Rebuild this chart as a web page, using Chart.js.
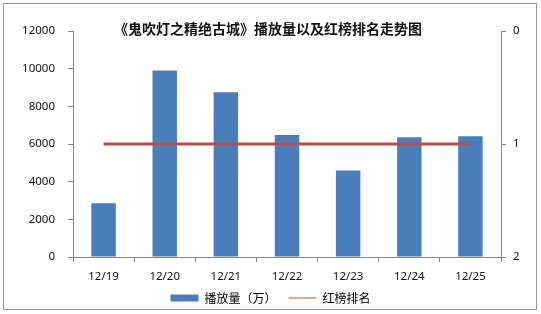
<!DOCTYPE html>
<html>
<head>
<meta charset="utf-8">
<script src="https://cdn.jsdelivr.net/npm/chart.js@4"></script>
<style>
  body { margin: 0; background: #fff; }
</style>
</head>
<body>
<canvas id="grafik" width="541" height="314"></canvas>
<script>
const judul = "《鬼吹灯之精绝古城》播放量以及红榜排名走势图";
const tanggal = ["12/19", "12/20", "12/21", "12/22", "12/23", "12/24", "12/25"];
const bofangliang = [2850, 9900, 8750, 6480, 4590, 6360, 6410]; // 播放量（万）
const paiming = [1, 1, 1, 1, 1, 1, 1]; // 红榜排名

const fontAngka = '"Noto Sans", "Noto Sans CJK SC", sans-serif';
const warnaSumbu = "#868686";

// bingkai abu-abu + judul
const hiasan = {
    id: "hiasan",
    beforeDraw(chart) {
        const c = chart.ctx;
        c.save();
        c.fillStyle = "#fff";
        c.fillRect(0, 0, chart.width, chart.height);
        c.strokeStyle = "#9a9a9a";
        c.lineWidth = 1;
        c.strokeRect(3.5, 3.5, 533, 306);
        c.restore();
    },
    afterDraw(chart) {
        const c = chart.ctx;
        c.save();
        c.font = 'bold 14px "Noto Sans CJK SC", sans-serif';
        c.fillStyle = "#111";
        c.textAlign = "center";
        c.textBaseline = "middle";
        c.fillText(judul, 268, 29);
        c.restore();
    }
};

const polos = v => String(v); // tanpa pemisah ribuan

new Chart(document.getElementById("grafik"), {
    type: "bar",
    data: {
        labels: tanggal,
        datasets: [{
            type: "bar",
            label: "播放量（万）",
            data: bofangliang,
            backgroundColor: "#4a7ebb",
            yAxisID: "y",
            order: 1,
            categoryPercentage: 1,
            barPercentage: 0.4
        }, {
            type: "line",
            label: "红榜排名",
            data: paiming,
            borderColor: "#be4b48",
            backgroundColor: "#be4b48",
            borderWidth: 3,
            pointRadius: 0,
            yAxisID: "y1",
            order: 0
        }]
    },
    options: {
        responsive: false,
        animation: false,
        layout: { padding: { top: 31, left: 0, right: 0, bottom: 0 } },
        plugins: {
            tooltip: { enabled: false },
            legend: {
                position: "bottom",
                labels: {
                    usePointStyle: true,
                    pointStyleWidth: 28,
                    boxHeight: 7,
                    padding: 12,
                    color: "#111",
                    font: { family: '"Noto Sans CJK SC", sans-serif', size: 12 },
                    generateLabels: chart => chart.data.datasets.map((ds, i) => ({
                        text: ds.label,
                        datasetIndex: i,
                        fillStyle: ds.type === "bar" ? ds.backgroundColor : "rgba(0,0,0,0)",
                        strokeStyle: ds.type === "bar" ? ds.backgroundColor : ds.borderColor,
                        lineWidth: ds.type === "bar" ? 0 : 1,
                        pointStyle: ds.type === "bar" ? "rect" : "line",
                        hidden: false
                    }))
                }
            }
        },
        scales: {
            x: {
                grid: { offset: true, drawOnChartArea: false, tickLength: 5, color: warnaSumbu },
                border: { color: warnaSumbu },
                ticks: { color: "#111", padding: 8, font: { family: fontAngka, size: 11.5 } },
                afterFit: s => { s.height = 23; }
            },
            y: {
                position: "left",
                min: 0,
                max: 12000,
                ticks: { stepSize: 2000, callback: polos, color: "#111", padding: 13, font: { family: fontAngka, size: 11.5 } },
                grid: { drawOnChartArea: false, tickLength: 5, color: warnaSumbu },
                border: { color: warnaSumbu },
                afterFit: s => { s.width = 73; }
            },
            y1: {
                position: "right",
                reverse: true,
                min: 0,
                max: 2,
                ticks: { stepSize: 1, callback: polos, color: "#111", padding: 7, font: { family: fontAngka, size: 11.5 } },
                grid: { drawOnChartArea: false, tickLength: 5, color: warnaSumbu },
                border: { color: warnaSumbu },
                afterFit: s => { s.width = 40; }
            }
        }
    },
    plugins: [hiasan]
});
</script>
</body>
</html>
